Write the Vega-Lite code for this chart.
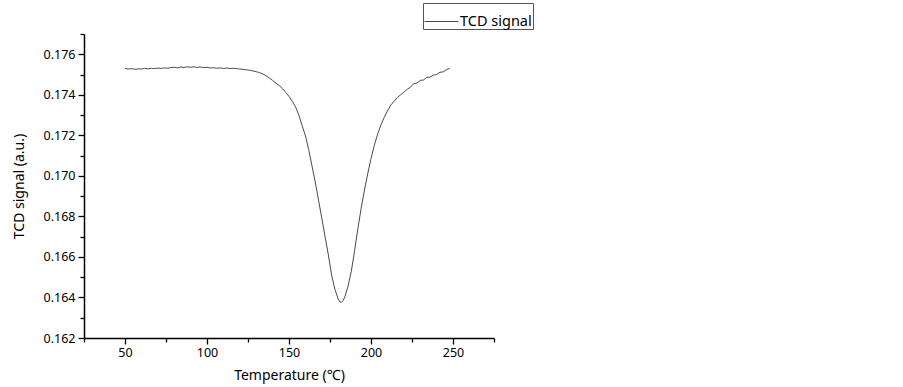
{
  "$schema": "https://vega.github.io/schema/vega-lite/v6.json",
  "width": 410,
  "height": 304,
  "autosize": {"type": "none"},
  "padding": {"left": 84, "top": 34, "right": 409, "bottom": 49},
  "background": "white",
  "config": {
    "view": {"stroke": null},
    "font": "Noto Sans",
    "axis": {
      "domainColor": "black",
      "domainWidth": 1.5,
      "tickColor": "black",
      "tickWidth": 1.3,
      "grid": false,
      "labelColor": "black",
      "labelFont": "Noto Sans",
      "labelFontSize": 12.5,
      "titleFont": "Noto Sans",
      "titleFontSize": 14,
      "titleFontWeight": "normal",
      "titleColor": "black"
    }
  },
  "data": {
    "values": [
      {"T": 50, "V": 0.17530}, {"T": 52, "V": 0.17527}, {"T": 54, "V": 0.17529}, {"T": 56, "V": 0.17526},
      {"T": 58, "V": 0.17528}, {"T": 60, "V": 0.17527}, {"T": 62, "V": 0.17530}, {"T": 64, "V": 0.17528},
      {"T": 66, "V": 0.17531}, {"T": 68, "V": 0.17529}, {"T": 70, "V": 0.17532}, {"T": 72, "V": 0.17530},
      {"T": 74, "V": 0.17533}, {"T": 76, "V": 0.17531}, {"T": 78, "V": 0.17534}, {"T": 80, "V": 0.17536},
      {"T": 82, "V": 0.17533}, {"T": 84, "V": 0.17537}, {"T": 86, "V": 0.17535}, {"T": 88, "V": 0.17538},
      {"T": 90, "V": 0.17536}, {"T": 92, "V": 0.17538}, {"T": 94, "V": 0.17535}, {"T": 96, "V": 0.17537},
      {"T": 98, "V": 0.17534}, {"T": 100, "V": 0.17536}, {"T": 102, "V": 0.17532}, {"T": 104, "V": 0.17534},
      {"T": 106, "V": 0.17531}, {"T": 108, "V": 0.17533}, {"T": 110, "V": 0.17530}, {"T": 112, "V": 0.17532},
      {"T": 114, "V": 0.17530}, {"T": 116, "V": 0.17531}, {"T": 118, "V": 0.17529}, {"T": 120, "V": 0.17527},
      {"T": 122, "V": 0.17526}, {"T": 124, "V": 0.17523}, {"T": 126, "V": 0.17521}, {"T": 128, "V": 0.17518},
      {"T": 130, "V": 0.17514}, {"T": 132, "V": 0.17510}, {"T": 134, "V": 0.17503}, {"T": 136, "V": 0.17494},
      {"T": 138, "V": 0.17483}, {"T": 140, "V": 0.17471}, {"T": 142, "V": 0.17458}, {"T": 144, "V": 0.17446},
      {"T": 146, "V": 0.17430}, {"T": 148, "V": 0.17412}, {"T": 150, "V": 0.17392}, {"T": 152, "V": 0.17368},
      {"T": 154, "V": 0.17340}, {"T": 156, "V": 0.17300}, {"T": 158, "V": 0.17248}, {"T": 160, "V": 0.17198},
      {"T": 162, "V": 0.17130}, {"T": 164, "V": 0.17050}, {"T": 166, "V": 0.16970}, {"T": 168, "V": 0.16880},
      {"T": 170, "V": 0.16790}, {"T": 172, "V": 0.16700}, {"T": 174, "V": 0.16610}, {"T": 176, "V": 0.16510},
      {"T": 178, "V": 0.16440}, {"T": 180, "V": 0.16392}, {"T": 181, "V": 0.16378}, {"T": 182, "V": 0.16376},
      {"T": 183, "V": 0.16385}, {"T": 184, "V": 0.16402}, {"T": 186, "V": 0.16455}, {"T": 188, "V": 0.16530},
      {"T": 190, "V": 0.16630}, {"T": 192, "V": 0.16740}, {"T": 194, "V": 0.16840}, {"T": 196, "V": 0.16930},
      {"T": 198, "V": 0.17010}, {"T": 200, "V": 0.17085}, {"T": 202, "V": 0.17150}, {"T": 204, "V": 0.17205},
      {"T": 206, "V": 0.17250}, {"T": 208, "V": 0.17288}, {"T": 210, "V": 0.17320}, {"T": 212, "V": 0.17348},
      {"T": 214, "V": 0.17368}, {"T": 216, "V": 0.17386}, {"T": 218, "V": 0.17400}, {"T": 220, "V": 0.17412},
      {"T": 222, "V": 0.17427}, {"T": 224, "V": 0.17437}, {"T": 226, "V": 0.17455}, {"T": 228, "V": 0.17458},
      {"T": 230, "V": 0.17471}, {"T": 232, "V": 0.17473}, {"T": 234, "V": 0.17486}, {"T": 236, "V": 0.17487},
      {"T": 238, "V": 0.17497}, {"T": 240, "V": 0.17500}, {"T": 242, "V": 0.17511}, {"T": 244, "V": 0.17513},
      {"T": 246, "V": 0.17524}, {"T": 248, "V": 0.17530}
    ]
  },
  "mark": {"type": "line", "strokeWidth": 1, "interpolate": "linear"},
  "encoding": {
    "x": {
      "field": "T",
      "type": "quantitative",
      "scale": {"domain": [25, 275], "nice": false, "zero": false},
      "axis": {
        "title": "Temperature (℃)",
        "values": [25, 50, 75, 100, 125, 150, 175, 200, 225, 250, 275],
        "labelExpr": "datum.value % 50 === 0 ? datum.label : ''",
        "tickSize": {"condition": {"test": "datum.value % 50 === 0", "value": 6}, "value": 4},
        "labelPadding": 2,
        "titlePadding": 10,
        "labelFlush": false
      }
    },
    "y": {
      "field": "V",
      "type": "quantitative",
      "scale": {"domain": [0.162, 0.177], "nice": false, "zero": false},
      "axis": {
        "title": "TCD signal (a.u.)",
        "values": [0.162, 0.163, 0.164, 0.165, 0.166, 0.167, 0.168, 0.169, 0.170, 0.171, 0.172, 0.173, 0.174, 0.175, 0.176, 0.177],
        "format": ".3f",
        "labelExpr": "round(datum.value * 1000) % 2 === 0 ? datum.label : ''",
        "tickSize": {"condition": {"test": "round(datum.value * 1000) % 2 === 0", "value": 6}, "value": 4},
        "labelPadding": 3,
        "titlePadding": 17,
        "labelFlush": false
      }
    },
    "color": {
      "datum": "TCD signal",
      "type": "nominal",
      "scale": {"range": ["#4a4a4a"]},
      "legend": {
        "title": null,
        "orient": "none",
        "legendX": 339,
        "legendY": -31,
        "symbolType": "stroke",
        "symbolSize": 1150,
        "symbolStrokeWidth": 1,
        "symbolStrokeColor": "#777",
        "labelFont": "Noto Sans",
        "labelFontSize": 14.5,
        "labelColor": "black",
        "labelOffset": 1,
        "strokeColor": "#555",
        "fillColor": "white",
        "padding": 1
      }
    }
  }
}
